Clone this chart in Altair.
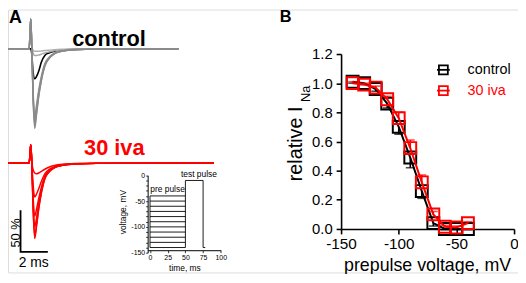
import altair as alt
import pandas as pd

FONT = "Liberation Sans, Arial, sans-serif"
W, H = 516, 266

# ---------------- Panel A: Na current traces (% of reference amplitude) ----------------
ctrl_time = [0, 1.55, 1.62, 1.67, 1.74, 1.84, 1.96, 2.10, 2.25, 2.45, 2.70, 3.00, 3.40, 4.00, 5.00, 6.50, 12.5]
ctrl_gray_1 = [0, 0, 20, 36, 4, -60, -96, -78, -58, -38, -21, -12, -6.0, -2.8, -1.1, -0.4, 0]
ctrl_gray_2 = [0, 0, 20, 36, 4, -57, -92, -75, -56, -37, -20, -11.5, -5.8, -2.7, -1.1, -0.4, 0]
ctrl_gray_3 = [0, 0, 20, 36, 4, -54, -87, -71, -53, -35, -19, -11, -5.5, -2.6, -1.0, -0.4, 0]
ctrl_gray_4 = [0, 0, 20, 36, 4, -51, -82, -67, -50, -33, -18, -10.5, -5.2, -2.5, -1.0, -0.4, 0]
ctrl_gray_5 = [0, 0, 20, 36, 4, -5, -8, -8, -7.5, -6.5, -5, -3.8, -2.5, -1.3, -0.5, -0.2, 0]
ctrl_gray_6 = [0, 0, 20, 36, 4, -2, -3, -3, -3, -2.7, -2.2, -1.7, -1.1, -0.6, -0.2, 0, 0]
ctrl_black = [0, 0, 0, 0, -6, -28, -36, -33, -27, -16, -8, -5, -3, -1.5, -0.6, -0.2, 0]

red_time = [0, 1.55, 1.62, 1.67, 1.74, 1.84, 1.96, 2.10, 2.25, 2.45, 2.70, 3.00, 3.40, 4.00, 5.00, 6.50, 15.1]
red_1 = [0, 0, 12, 22, 2, -55, -91, -75, -56, -36, -19, -11, -5.8, -2.8, -1.1, -0.4, 0]
red_2 = [0, 0, 12, 22, 2, -53, -88, -73, -54, -35, -18.5, -10.5, -5.6, -2.7, -1.1, -0.4, 0]
red_3 = [0, 0, 12, 22, 2, -47, -77, -65, -49, -32, -17.5, -10, -5.3, -2.6, -1.0, -0.4, 0]
red_4 = [0, 0, 12, 22, 2, -40, -64, -55, -43, -29, -16, -9.5, -5.0, -2.5, -1.0, -0.4, 0]
red_5 = [0, 0, 12, 22, 2, -26, -41, -37, -31, -22, -13, -8, -4.3, -2.1, -0.8, -0.3, 0]
red_6 = [0, 0, 12, 22, 2, -8, -12, -13, -12, -10, -7.5, -5, -3, -1.5, -0.6, -0.2, 0]

scalebar_pct = 50   # vertical scale bar, %
scalebar_ms = 2     # horizontal scale bar, ms

# inset: voltage protocol
prepulse_v = [-140, -130, -120, -110, -100, -90, -80, -70, -60, -50, -40]
prepulse_start, prepulse_end = 0, 50
test_t = [50, 50, 75, 75, 78]
test_v = [-140, -10, -10, -140, -140]

# ---------------- Panel B: steady-state inactivation ----------------
volt = [-140, -130, -120, -110, -100, -90, -80, -70, -60, -50, -40]
ctrl_mean = [1.01, 1.00, 0.96, 0.86, 0.70, 0.49, 0.26, 0.04, 0.0, 0.0, 0.0]
ctrl_sem = [0.01, 0.01, 0.015, 0.03, 0.05, 0.07, 0.05, 0.02, 0.005, 0.005, 0.005]
iva_mean = [1.00, 0.99, 0.97, 0.89, 0.76, 0.555, 0.32, 0.10, 0.015, 0.01, 0.04]
iva_sem = [0.01, 0.01, 0.01, 0.02, 0.04, 0.055, 0.05, 0.02, 0.01, 0.01, 0.01]
legend_labels = ["control", "30 iva"]
legend_colors = ["black", "#ff0000"]


def lin(domain, rng):
    return alt.Scale(domain=domain, range=rng, zero=False, nice=False)


def traces_df(time, traces, colors):
    rows = []
    for name, vals in traces.items():
        for t, v in zip(time, vals):
            rows.append({"t": t, "v": v, "trace": name, "col": colors[name]})
    return pd.DataFrame(rows)


def text(label, x, y, size, **kw):
    style = dict(font=FONT, fontSize=size, align="left", baseline="alphabetic", color="black")
    style.update(kw)
    return alt.Chart(pd.DataFrame({"label": [label]})).mark_text(**style).encode(
        text="label:N", x=alt.value(x), y=alt.value(y))


RED = "#ff0000"
ctrl_x = lin([0, 12.5], [0, 172.5])
ctrl_y = lin([-110, 45], [132.1, 1.9])
red_x = lin([0, 15.1], [0, 208.4])
red_y = lin([-110, 45], [247.7, 117.5])

gray_df = traces_df(ctrl_time,
                    {"g6": ctrl_gray_6, "g5": ctrl_gray_5, "g4": ctrl_gray_4, "g3": ctrl_gray_3,
                     "g2": ctrl_gray_2, "g1": ctrl_gray_1},
                    {"g6": "#b0b0b0", "g5": "#a8a8a8", "g4": "#939393", "g3": "#8d8d8d",
                     "g2": "#8d8d8d", "g1": "#8a8a8a"})
black_df = pd.DataFrame({"t": ctrl_time, "v": ctrl_black})
red_df = traces_df(red_time, {"r6": red_6, "r5": red_5, "r4": red_4, "r3": red_3, "r2": red_2, "r1": red_1},
                   {k: RED for k in ["r1", "r2", "r3", "r4", "r5", "r6"]})

gray_layer = alt.Chart(gray_df).mark_line(strokeWidth=1.5, interpolate="monotone").encode(
    x=alt.X("t:Q", scale=ctrl_x, axis=None), y=alt.Y("v:Q", scale=ctrl_y, axis=None),
    detail="trace:N", color=alt.Color("col:N", scale=None))
black_layer = alt.Chart(black_df).mark_line(strokeWidth=1.6, color="black", interpolate="monotone").encode(
    x=alt.X("t:Q", scale=ctrl_x, axis=None), y=alt.Y("v:Q", scale=ctrl_y, axis=None))
red_layer = alt.Chart(red_df).mark_line(strokeWidth=1.5, interpolate="monotone").encode(
    x=alt.X("t:Q", scale=red_x, axis=None), y=alt.Y("v:Q", scale=red_y, axis=None),
    detail="trace:N", color=alt.Color("col:N", scale=None))

# scale bar anchored below the red traces
sb_t0, sb_top = 0.92, -57
sb_df = pd.DataFrame({"t": [sb_t0, sb_t0, sb_t0 + scalebar_ms],
                      "v": [sb_top, sb_top - scalebar_pct, sb_top - scalebar_pct],
                      "i": [0, 1, 2]})
sb_layer = alt.Chart(sb_df).mark_line(strokeWidth=1.8, color="black").encode(
    x=alt.X("t:Q", scale=red_x, axis=None), y=alt.Y("v:Q", scale=red_y, axis=None), order="i:O")

# inset
in_x = lin([-3.3, 100], [141.3, 215.3])
in_y = lin([-150, 0], [246, 167.7])
ax_in_x = alt.Axis(orient="bottom", offset=243.5 - H, values=[0, 25, 50, 75, 100], title=None, grid=False,
                   domainColor="black", domainWidth=1, tickColor="black", tickWidth=0.8, tickSize=2.5,
                   labelFont=FONT, labelFontSize=7, labelColor="black", labelPadding=1,
                   labelFlush=False, labelOverlap=False)
ax_in_y = alt.Axis(orient="left", offset=-141.3, values=list(range(-150, 1, 10)), title=None, grid=False,
                   labelExpr="datum.value % 50 == 0 ? datum.value + '' : ''",
                   domainColor="black", domainWidth=1, tickColor="black", tickWidth=0.8, tickSize=2,
                   labelFont=FONT, labelFontSize=7, labelColor="black", labelPadding=1,
                   labelFlush=False, labelOverlap=False)
pre_df = pd.DataFrame({"v": prepulse_v, "t0": prepulse_start, "t1": prepulse_end})
pre_layer = alt.Chart(pre_df).mark_rule(strokeWidth=0.9, color="black").encode(
    x=alt.X("t0:Q", scale=in_x, axis=ax_in_x), x2="t1:Q",
    y=alt.Y("v:Q", scale=in_y, axis=ax_in_y))
pre_edge_df = pd.DataFrame({"t": [prepulse_start], "lo": [min(prepulse_v)], "hi": [max(prepulse_v)]})
pre_edge = alt.Chart(pre_edge_df).mark_rule(strokeWidth=0.9, color="black").encode(
    x=alt.X("t:Q", scale=in_x, axis=None), y=alt.Y("lo:Q", scale=in_y, axis=None), y2="hi:Q")
test_df = pd.DataFrame({"t": test_t, "v": test_v, "i": list(range(len(test_t)))})
test_layer = alt.Chart(test_df).mark_line(strokeWidth=0.9, color="black").encode(
    x=alt.X("t:Q", scale=in_x, axis=None), y=alt.Y("v:Q", scale=in_y, axis=None), order="i:O")

# panel B
b_x = lin([-150, 0], [337, 512])
b_y = lin([0, 1.2], [222, 45])
ax_b_x = alt.Axis(orient="bottom", offset=222 - H, values=[-150, -100, -50, 0], labelExpr="datum.value + ''",
                  title=None, grid=False, domainColor="black", domainWidth=1.6, tickColor="black",
                  tickWidth=1.6, tickSize=5, labelFont=FONT, labelFontSize=15.5, labelColor="black",
                  labelPadding=3, labelFlush=False, labelOverlap=False)
ax_b_y = alt.Axis(orient="left", offset=-337, values=[0, 0.2, 0.4, 0.6, 0.8, 1.0, 1.2], format=".1f",
                  title=None, grid=False, domainColor="black", domainWidth=1.6, tickColor="black",
                  tickWidth=1.6, tickSize=5, labelFont=FONT, labelFontSize=15, labelColor="black",
                  labelPadding=4, labelFlush=False, labelOverlap=False)

ctrl_df = pd.DataFrame({"V": volt, "m": ctrl_mean, "e": ctrl_sem})
ctrl_df["lo"] = ctrl_df["m"] - ctrl_df["e"]
iva_df = pd.DataFrame({"V": volt, "m": iva_mean, "e": iva_sem})
iva_df["hi"] = iva_df["m"] + iva_df["e"]


def bx(axis=None):
    return alt.X("V:Q", scale=b_x, axis=axis)


def by(field, axis=None):
    return alt.Y(field, scale=b_y, axis=axis)


b_layers = [
    alt.Chart(ctrl_df).mark_line(strokeWidth=2, color="black").encode(x=bx(ax_b_x), y=by("m:Q", ax_b_y)),
    alt.Chart(ctrl_df).mark_rule(strokeWidth=1.6, color="black").encode(x=bx(), y=by("m:Q"), y2="lo:Q"),
    alt.Chart(ctrl_df).mark_tick(orient="horizontal", size=9, thickness=1.6, color="black").encode(
        x=bx(), y=by("lo:Q")),
    alt.Chart(ctrl_df).mark_point(shape="square", filled=False, size=144, strokeWidth=2, color="black",
                                  opacity=1).encode(x=bx(), y=by("m:Q")),
    alt.Chart(iva_df).mark_line(strokeWidth=2, color=RED).encode(x=bx(), y=by("m:Q")),
    alt.Chart(iva_df).mark_rule(strokeWidth=1.6, color=RED).encode(x=bx(), y=by("m:Q"), y2="hi:Q"),
    alt.Chart(iva_df).mark_tick(orient="horizontal", size=9, thickness=1.6, color=RED).encode(
        x=bx(), y=by("hi:Q")),
    alt.Chart(iva_df).mark_point(shape="square", filled=False, size=144, strokeWidth=2, color=RED,
                                 opacity=1).encode(x=bx(), y=by("m:Q")),
]

# legend (manual, GraphPad style)
leg_df = pd.DataFrame({"label": legend_labels, "col": legend_colors})
leg_base = alt.Chart(leg_df).transform_window(row="row_number()").transform_calculate(
    ly="61 + 21 * (datum.row - 1)")
leg_layers = [
    leg_base.mark_rule(strokeWidth=1.8).encode(
        x=alt.value(434), x2=alt.value(447), y=alt.Y("ly:Q", scale=None, axis=None),
        color=alt.Color("col:N", scale=None)),
    leg_base.mark_point(shape="square", filled=False, size=81, strokeWidth=1.8, opacity=1).encode(
        x=alt.value(440.5), y=alt.Y("ly:Q", scale=None, axis=None), color=alt.Color("col:N", scale=None)),
    leg_base.mark_text(font=FONT, fontSize=14.5, align="left", baseline="middle").encode(
        x=alt.value(465), y=alt.Y("ly:Q", scale=None, axis=None), text="label:N",
        color=alt.Color("col:N", scale=None)),
]

texts = [
    text("A", 1, 14, 18, fontWeight="bold"),
    text("B", 275, 13, 16.5, fontWeight="bold"),
    text("control", 65, 37, 22, fontWeight="bold"),
    text("30 iva", 77, 147, 22, fontWeight="bold", color=RED),
    text("50 %", 12, 226, 13, angle=270, align="center"),
    text("2 ms", 26, 260, 14, align="center"),
    text("pre pulse", 144, 185, 8.5),
    text("test pulse", 175, 169, 8.5),
    text("voltage, mV", 119, 205, 8.5, angle=270, align="center"),
    text("time, ms", 179, 265, 8.5, align="center"),
    text("relative I", 297, 173.7, 20, angle=270, align="left"),
    text("Na", 306, 93.5, 13, angle=270, align="left"),
    text("prepulse voltage, mV", 424.5, 265, 18, align="center"),
]

# black trace first so that the gray baseline lies on top of it (as in the original)
layers = [black_layer, gray_layer, red_layer, sb_layer, pre_layer, pre_edge, test_layer] + b_layers + leg_layers + texts

chart = alt.layer(*layers).resolve_scale(x="independent", y="independent").properties(
    width=W, height=H, padding=0, autosize=alt.AutoSizeParams(type="none")
).configure_view(stroke=None).configure(background="white")

chart.save("out.html", embed_options={"renderer": "svg", "actions": False})
